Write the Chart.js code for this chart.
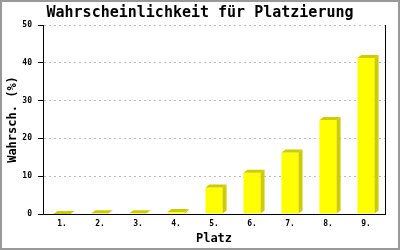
<!DOCTYPE html>
<html>
<head>
<meta charset="utf-8">
<script src="https://cdn.jsdelivr.net/npm/chart.js@4"></script>
<style>
  html, body { margin: 0; padding: 0; background: #fff; }
  #wrap { width: 400px; height: 250px; }
</style>
</head>
<body>
<div id="wrap"><canvas id="platzChart" width="400" height="250"></canvas></div>
<script>
const platzLabels = ["1.", "2.", "3.", "4.", "5.", "6.", "7.", "8.", "9."];
const wahrschValues = [0, 0.2, 0.2, 0.5, 7.0, 10.9, 16.3, 24.9, 41.3];
const yTicks = [0, 10, 20, 30, 40, 50];

const monoFont = "'DejaVu Sans Mono', monospace";

// 3D look: side and top of each bar
const bar3d = {
  id: "bar3d",
  afterDatasetsDraw(chart) {
    const ctx = chart.ctx;
    const dx = 4, dy = 3;
    chart.getDatasetMeta(0).data.forEach((bar) => {
      const p = bar.getProps(["x", "y", "base", "width"], true);
      const left = p.x - p.width / 2;
      const right = p.x + p.width / 2;
      ctx.save();
      ctx.fillStyle = "#cccc00";
      ctx.beginPath();
      ctx.moveTo(right, p.y);
      ctx.lineTo(right + dx, p.y - dy);
      ctx.lineTo(right + dx, p.base - dy);
      ctx.lineTo(right, p.base);
      ctx.closePath();
      ctx.fill();
      ctx.beginPath();
      ctx.moveTo(left, p.y);
      ctx.lineTo(left + dx, p.y - dy);
      ctx.lineTo(right + dx, p.y - dy);
      ctx.lineTo(right, p.y);
      ctx.closePath();
      ctx.fill();
      ctx.restore();
    });
  },
};

// grey frame round the picture
const frame = {
  id: "frame",
  afterDraw(chart) {
    const ctx = chart.ctx;
    ctx.save();
    ctx.strokeStyle = "#999";
    ctx.lineWidth = 2;
    ctx.strokeRect(1, 1, chart.width - 2, chart.height - 2);
    ctx.restore();
  },
};

const chartCtx = document.getElementById("platzChart").getContext("2d");
const platzChart = new Chart(chartCtx, {
  type: "bar",
  data: {
    labels: platzLabels,
    datasets: [{
      data: wahrschValues,
      backgroundColor: "#ffff00",
      borderWidth: 0,
      categoryPercentage: 1,
      barPercentage: 0.45,
    }],
  },
  options: {
    responsive: false,
    animation: false,
    layout: { padding: { left: 2, right: 2, top: 0, bottom: 2 } },
    plugins: {
      legend: { display: false },
      tooltip: { enabled: false },
      title: {
        display: true,
        text: "Wahrscheinlichkeit für Platzierung",
        color: "#000",
        font: { family: monoFont, size: 15, weight: "bold", lineHeight: 1.2 },
        padding: { top: 4, bottom: 3 },
      },
    },
    scales: {
      x: {
        grid: { display: false, drawTicks: false },
        border: { display: true, color: "#000", width: 1 },
        ticks: { color: "#000", padding: 5, font: { family: monoFont, size: 8, weight: "bold" } },
        title: {
          display: true,
          text: "Platz",
          color: "#000",
          font: { family: monoFont, size: 12, weight: "bold" },
          padding: { top: 2, bottom: 2 },
        },
        afterFit(scale) { scale.height = 34; },
      },
      y: {
        min: 0,
        max: 50,
        afterBuildTicks(scale) { scale.ticks = yTicks.map((v) => ({ value: v })); },
        grid: {
          color: "#bbbbbb",
          tickColor: "#000",
          tickLength: 5,
          tickBorderDash: [],
        },
        border: { display: true, color: "#000", width: 1, dash: [2, 3] },
        ticks: { color: "#000", padding: 6, font: { family: monoFont, size: 8, weight: "bold" } },
        title: {
          display: true,
          text: "Wahrsch. (%)",
          color: "#000",
          font: { family: monoFont, size: 12, weight: "bold" },
          padding: { top: 4, bottom: 4 },
        },
        afterFit(scale) { scale.width = 41; },
      },
      // empty right axis: only its line closes the plot on the right
      yRight: {
        position: "right",
        min: 0,
        max: 50,
        grid: { display: false, drawTicks: false },
        border: { display: true, color: "#000", width: 1 },
        ticks: { display: false },
        afterFit(scale) { scale.width = 13; },
      },
    },
  },
  plugins: [bar3d, frame],
});
</script>
</body>
</html>
